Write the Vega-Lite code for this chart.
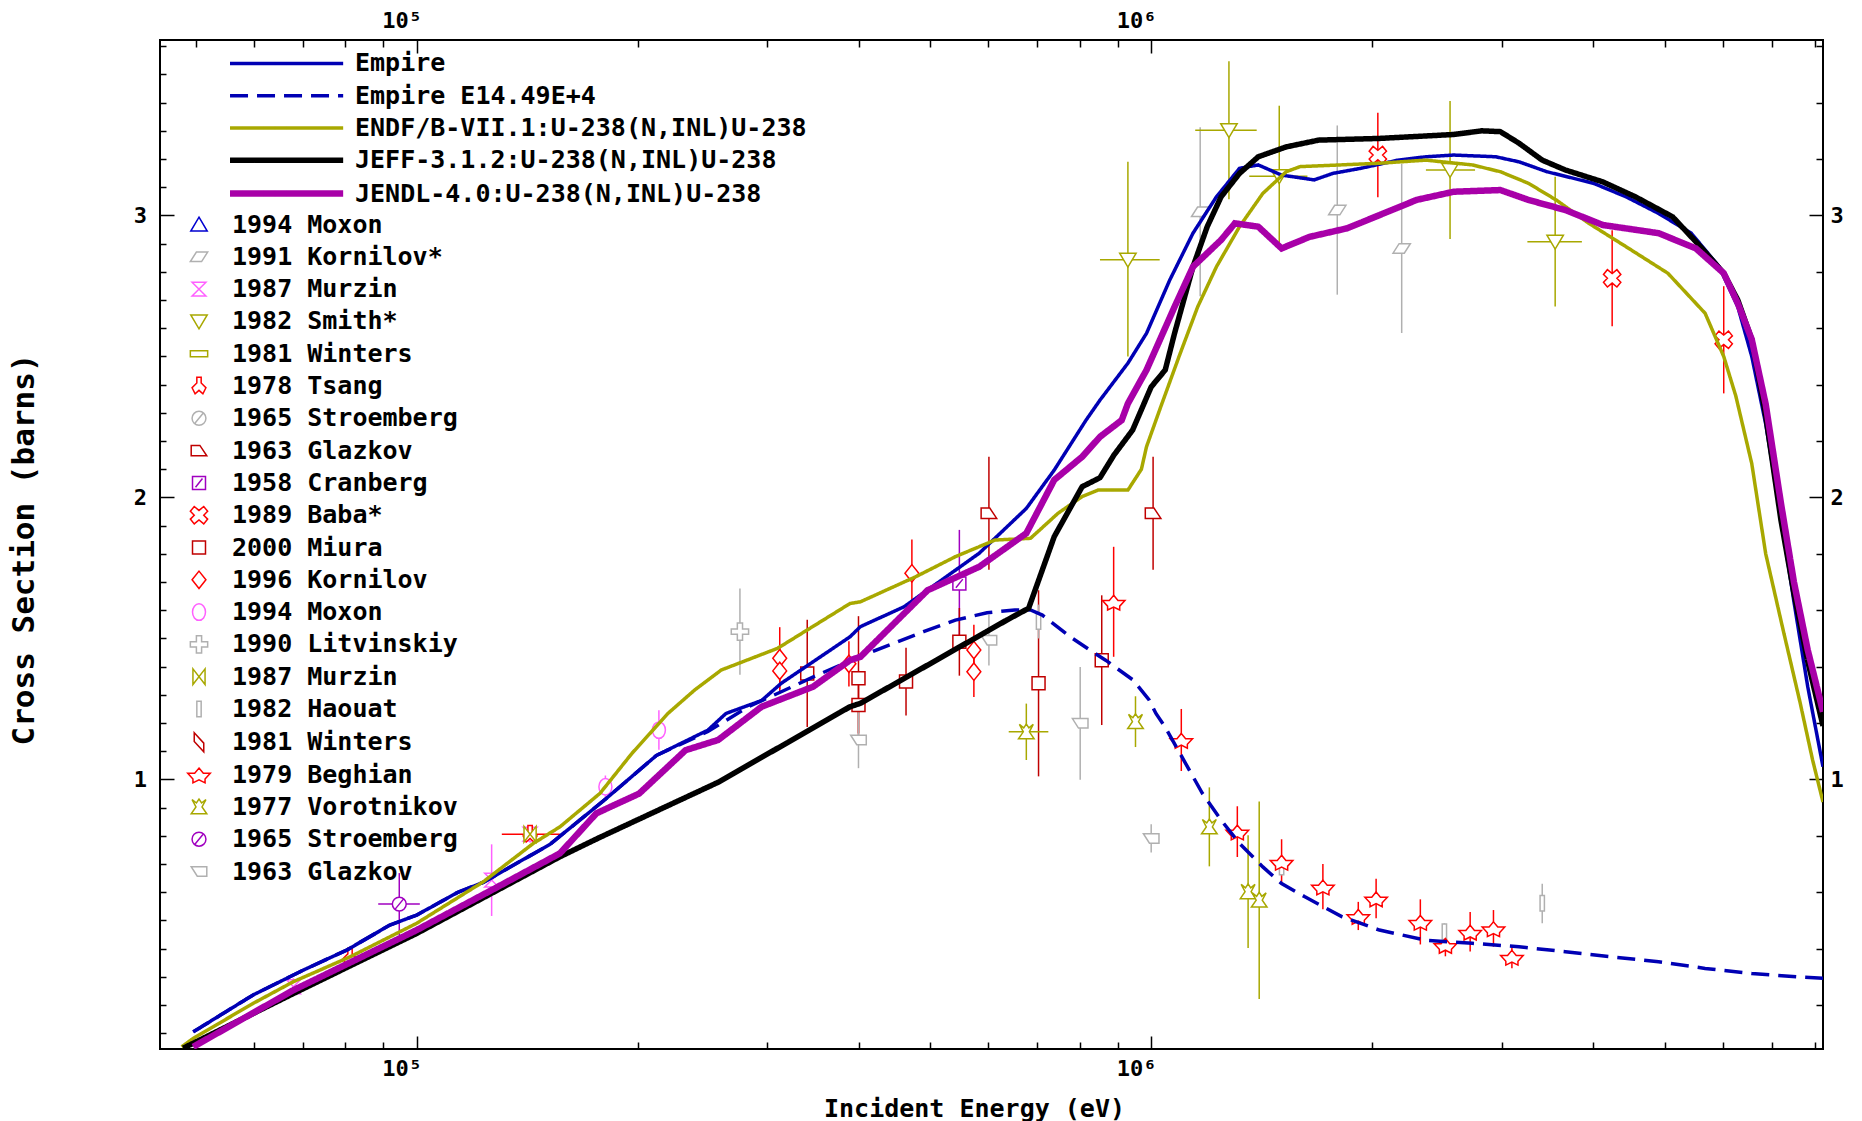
{
"$schema": "https://vega.github.io/schema/vega-lite/v6.json",
"width": 1663, "height": 1009,
"autosize": "none",
"padding": {"left": 160, "top": 40, "right": 39, "bottom": 72},
"background": "white",
"config": {
 "view": {"stroke": "black", "strokeWidth": 2},
 "font": "DejaVu Sans Mono",
 "axis": {"domain": false, "grid": false, "tickColor": "black", "tickWidth": 1.5, "labelFont": "DejaVu Sans Mono", "labelFontWeight": "bold", "labelColor": "black", "titleFont": "DejaVu Sans Mono", "titleFontWeight": "bold", "titleColor": "black", "labelFlush": false, "labelOverlap": false},
 "legend": {"labelFont": "DejaVu Sans Mono", "labelFontWeight": "bold", "labelColor": "black", "labelFontSize": 25, "labelLimit": 0, "padding": 0, "offset": 0}
},
"datasets": {
 "curves": [
{"m":"Empire","E":49640,"v":0.105},{"m":"Empire","E":59900,"v":0.236},{"m":"Empire","E":70100,"v":0.324},{"m":"Empire","E":80300,"v":0.395},{"m":"Empire","E":91990,"v":0.484},{"m":"Empire","E":100000,"v":0.519},{"m":"Empire","E":113800,"v":0.600},{"m":"Empire","E":123200,"v":0.635},{"m":"Empire","E":151900,"v":0.770},{"m":"Empire","E":180700,"v":0.930},{"m":"Empire","E":212000,"v":1.085},{"m":"Empire","E":249200,"v":1.175},{"m":"Empire","E":263700,"v":1.234},{"m":"Empire","E":294900,"v":1.280},{"m":"Empire","E":313600,"v":1.341},{"m":"Empire","E":389100,"v":1.506},{"m":"Empire","E":402000,"v":1.542},{"m":"Empire","E":460600,"v":1.612},{"m":"Empire","E":583200,"v":1.802},{"m":"Empire","E":676100,"v":1.961},{"m":"Empire","E":737900,"v":2.097},{"m":"Empire","E":815200,"v":2.274},{"m":"Empire","E":851700,"v":2.345},{"m":"Empire","E":929600,"v":2.476},{"m":"Empire","E":985500,"v":2.582},{"m":"Empire","E":1060000,"v":2.771},{"m":"Empire","E":1140000,"v":2.937},{"m":"Empire","E":1227000,"v":3.066},{"m":"Empire","E":1319000,"v":3.167},{"m":"Empire","E":1399000,"v":3.179},{"m":"Empire","E":1505000,"v":3.143},{"m":"Empire","E":1667000,"v":3.126},{"m":"Empire","E":1767000,"v":3.149},{"m":"Empire","E":1929000,"v":3.167},{"m":"Empire","E":2168000,"v":3.196},{"m":"Empire","E":2366000,"v":3.208},{"m":"Empire","E":2582000,"v":3.214},{"m":"Empire","E":2944000,"v":3.208},{"m":"Empire","E":3168000,"v":3.190},{"m":"Empire","E":3457000,"v":3.155},{"m":"Empire","E":4000000,"v":3.114},{"m":"Empire","E":4431000,"v":3.066},{"m":"Empire","E":4907000,"v":3.007},{"m":"Empire","E":5435000,"v":2.937},{"m":"Empire","E":5933000,"v":2.818},{"m":"Empire","E":6290000,"v":2.676},{"m":"Empire","E":6571000,"v":2.500},{"m":"Empire","E":6865000,"v":2.260},{"m":"Empire","E":7200000,"v":1.930},{"m":"Empire","E":7500000,"v":1.630},{"m":"Empire","E":7830000,"v":1.330},{"m":"Empire","E":8215000,"v":1.045},
{"m":"Empire E14.49E+4","E":49640,"v":0.105},{"m":"Empire E14.49E+4","E":59900,"v":0.236},{"m":"Empire E14.49E+4","E":70100,"v":0.324},{"m":"Empire E14.49E+4","E":80300,"v":0.395},{"m":"Empire E14.49E+4","E":91990,"v":0.484},{"m":"Empire E14.49E+4","E":100000,"v":0.519},{"m":"Empire E14.49E+4","E":113800,"v":0.600},{"m":"Empire E14.49E+4","E":123200,"v":0.635},{"m":"Empire E14.49E+4","E":151900,"v":0.770},{"m":"Empire E14.49E+4","E":180700,"v":0.930},{"m":"Empire E14.49E+4","E":212000,"v":1.085},{"m":"Empire E14.49E+4","E":249200,"v":1.170},{"m":"Empire E14.49E+4","E":282900,"v":1.258},{"m":"Empire E14.49E+4","E":313600,"v":1.311},{"m":"Empire E14.49E+4","E":355200,"v":1.376},{"m":"Empire E14.49E+4","E":422400,"v":1.459},{"m":"Empire E14.49E+4","E":489900,"v":1.524},{"m":"Empire E14.49E+4","E":541300,"v":1.565},{"m":"Empire E14.49E+4","E":597700,"v":1.591},{"m":"Empire E14.49E+4","E":652000,"v":1.601},{"m":"Empire E14.49E+4","E":685000,"v":1.601},{"m":"Empire E14.49E+4","E":710900,"v":1.583},{"m":"Empire E14.49E+4","E":775500,"v":1.506},{"m":"Empire E14.49E+4","E":825000,"v":1.459},{"m":"Empire E14.49E+4","E":866900,"v":1.423},{"m":"Empire E14.49E+4","E":945400,"v":1.352},{"m":"Empire E14.49E+4","E":993600,"v":1.282},{"m":"Empire E14.49E+4","E":1015000,"v":1.234},{"m":"Empire E14.49E+4","E":1044000,"v":1.187},{"m":"Empire E14.49E+4","E":1094000,"v":1.093},{"m":"Empire E14.49E+4","E":1174000,"v":0.951},{"m":"Empire E14.49E+4","E":1245000,"v":0.856},{"m":"Empire E14.49E+4","E":1319000,"v":0.773},{"m":"Empire E14.49E+4","E":1419000,"v":0.690},{"m":"Empire E14.49E+4","E":1505000,"v":0.631},{"m":"Empire E14.49E+4","E":1619000,"v":0.584},{"m":"Empire E14.49E+4","E":1820000,"v":0.513},{"m":"Empire E14.49E+4","E":2045000,"v":0.466},{"m":"Empire E14.49E+4","E":2366000,"v":0.430},{"m":"Empire E14.49E+4","E":2737000,"v":0.419},{"m":"Empire E14.49E+4","E":3168000,"v":0.407},{"m":"Empire E14.49E+4","E":3664000,"v":0.389},{"m":"Empire E14.49E+4","E":4242000,"v":0.371},{"m":"Empire E14.49E+4","E":4907000,"v":0.354},{"m":"Empire E14.49E+4","E":5677000,"v":0.330},{"m":"Empire E14.49E+4","E":6571000,"v":0.312},{"m":"Empire E14.49E+4","E":7602000,"v":0.300},{"m":"Empire E14.49E+4","E":8215000,"v":0.295},
{"m":"ENDF/B-VII.1:U-238(N,INL)U-238","E":47870,"v":0.052},{"m":"ENDF/B-VII.1:U-238(N,INL)U-238","E":49640,"v":0.082},{"m":"ENDF/B-VII.1:U-238(N,INL)U-238","E":59900,"v":0.206},{"m":"ENDF/B-VII.1:U-238(N,INL)U-238","E":67960,"v":0.283},{"m":"ENDF/B-VII.1:U-238(N,INL)U-238","E":81150,"v":0.371},{"m":"ENDF/B-VII.1:U-238(N,INL)U-238","E":100000,"v":0.490},{"m":"ENDF/B-VII.1:U-238(N,INL)U-238","E":123200,"v":0.637},{"m":"ENDF/B-VII.1:U-238(N,INL)U-238","E":144100,"v":0.773},{"m":"ENDF/B-VII.1:U-238(N,INL)U-238","E":156700,"v":0.832},{"m":"ENDF/B-VII.1:U-238(N,INL)U-238","E":177700,"v":0.951},{"m":"ENDF/B-VII.1:U-238(N,INL)U-238","E":196300,"v":1.092},{"m":"ENDF/B-VII.1:U-238(N,INL)U-238","E":219800,"v":1.234},{"m":"ENDF/B-VII.1:U-238(N,INL)U-238","E":239000,"v":1.317},{"m":"ENDF/B-VII.1:U-238(N,INL)U-238","E":259800,"v":1.388},{"m":"ENDF/B-VII.1:U-238(N,INL)U-238","E":310000,"v":1.465},{"m":"ENDF/B-VII.1:U-238(N,INL)U-238","E":389100,"v":1.624},{"m":"ENDF/B-VII.1:U-238(N,INL)U-238","E":402000,"v":1.630},{"m":"ENDF/B-VII.1:U-238(N,INL)U-238","E":478200,"v":1.719},{"m":"ENDF/B-VII.1:U-238(N,INL)U-238","E":541300,"v":1.790},{"m":"ENDF/B-VII.1:U-238(N,INL)U-238","E":612900,"v":1.849},{"m":"ENDF/B-VII.1:U-238(N,INL)U-238","E":685000,"v":1.855},{"m":"ENDF/B-VII.1:U-238(N,INL)U-238","E":746900,"v":1.944},{"m":"ENDF/B-VII.1:U-238(N,INL)U-238","E":805300,"v":2.003},{"m":"ENDF/B-VII.1:U-238(N,INL)U-238","E":846500,"v":2.026},{"m":"ENDF/B-VII.1:U-238(N,INL)U-238","E":929600,"v":2.026},{"m":"ENDF/B-VII.1:U-238(N,INL)U-238","E":969800,"v":2.100},{"m":"ENDF/B-VII.1:U-238(N,INL)U-238","E":985500,"v":2.180},{"m":"ENDF/B-VII.1:U-238(N,INL)U-238","E":1030000,"v":2.320},{"m":"ENDF/B-VII.1:U-238(N,INL)U-238","E":1091000,"v":2.499},{"m":"ENDF/B-VII.1:U-238(N,INL)U-238","E":1157000,"v":2.676},{"m":"ENDF/B-VII.1:U-238(N,INL)U-238","E":1227000,"v":2.818},{"m":"ENDF/B-VII.1:U-238(N,INL)U-238","E":1319000,"v":2.960},{"m":"ENDF/B-VII.1:U-238(N,INL)U-238","E":1419000,"v":3.078},{"m":"ENDF/B-VII.1:U-238(N,INL)U-238","E":1527000,"v":3.155},{"m":"ENDF/B-VII.1:U-238(N,INL)U-238","E":1595000,"v":3.173},{"m":"ENDF/B-VII.1:U-238(N,INL)U-238","E":2045000,"v":3.185},{"m":"ENDF/B-VII.1:U-238(N,INL)U-238","E":2366000,"v":3.196},{"m":"ENDF/B-VII.1:U-238(N,INL)U-238","E":2737000,"v":3.179},{"m":"ENDF/B-VII.1:U-238(N,INL)U-238","E":2988000,"v":3.155},{"m":"ENDF/B-VII.1:U-238(N,INL)U-238","E":3262000,"v":3.114},{"m":"ENDF/B-VII.1:U-238(N,INL)U-238","E":3558000,"v":3.055},{"m":"ENDF/B-VII.1:U-238(N,INL)U-238","E":3943000,"v":2.972},{"m":"ENDF/B-VII.1:U-238(N,INL)U-238","E":4431000,"v":2.889},{"m":"ENDF/B-VII.1:U-238(N,INL)U-238","E":5051000,"v":2.795},{"m":"ENDF/B-VII.1:U-238(N,INL)U-238","E":5677000,"v":2.653},{"m":"ENDF/B-VII.1:U-238(N,INL)U-238","E":6018000,"v":2.500},{"m":"ENDF/B-VII.1:U-238(N,INL)U-238","E":6250000,"v":2.360},{"m":"ENDF/B-VII.1:U-238(N,INL)U-238","E":6571000,"v":2.120},{"m":"ENDF/B-VII.1:U-238(N,INL)U-238","E":6865000,"v":1.800},{"m":"ENDF/B-VII.1:U-238(N,INL)U-238","E":7250000,"v":1.530},{"m":"ENDF/B-VII.1:U-238(N,INL)U-238","E":7650000,"v":1.270},{"m":"ENDF/B-VII.1:U-238(N,INL)U-238","E":7950000,"v":1.070},{"m":"ENDF/B-VII.1:U-238(N,INL)U-238","E":8215000,"v":0.920},
{"m":"JEFF-3.1.2:U-238(N,INL)U-238","E":48100,"v":0.047},{"m":"JEFF-3.1.2:U-238(N,INL)U-238","E":67960,"v":0.241},{"m":"JEFF-3.1.2:U-238(N,INL)U-238","E":100000,"v":0.454},{"m":"JEFF-3.1.2:U-238(N,INL)U-238","E":156700,"v":0.726},{"m":"JEFF-3.1.2:U-238(N,INL)U-238","E":177700,"v":0.795},{"m":"JEFF-3.1.2:U-238(N,INL)U-238","E":257300,"v":0.990},{"m":"JEFF-3.1.2:U-238(N,INL)U-238","E":389100,"v":1.258},{"m":"JEFF-3.1.2:U-238(N,INL)U-238","E":402000,"v":1.270},{"m":"JEFF-3.1.2:U-238(N,INL)U-238","E":635800,"v":1.565},{"m":"JEFF-3.1.2:U-238(N,INL)U-238","E":681000,"v":1.607},{"m":"JEFF-3.1.2:U-238(N,INL)U-238","E":737900,"v":1.861},{"m":"JEFF-3.1.2:U-238(N,INL)U-238","E":805300,"v":2.038},{"m":"JEFF-3.1.2:U-238(N,INL)U-238","E":851700,"v":2.070},{"m":"JEFF-3.1.2:U-238(N,INL)U-238","E":889700,"v":2.150},{"m":"JEFF-3.1.2:U-238(N,INL)U-238","E":943500,"v":2.239},{"m":"JEFF-3.1.2:U-238(N,INL)U-238","E":1000000,"v":2.392},{"m":"JEFF-3.1.2:U-238(N,INL)U-238","E":1045000,"v":2.452},{"m":"JEFF-3.1.2:U-238(N,INL)U-238","E":1076000,"v":2.582},{"m":"JEFF-3.1.2:U-238(N,INL)U-238","E":1140000,"v":2.818},{"m":"JEFF-3.1.2:U-238(N,INL)U-238","E":1192000,"v":2.960},{"m":"JEFF-3.1.2:U-238(N,INL)U-238","E":1245000,"v":3.066},{"m":"JEFF-3.1.2:U-238(N,INL)U-238","E":1319000,"v":3.149},{"m":"JEFF-3.1.2:U-238(N,INL)U-238","E":1399000,"v":3.208},{"m":"JEFF-3.1.2:U-238(N,INL)U-238","E":1527000,"v":3.243},{"m":"JEFF-3.1.2:U-238(N,INL)U-238","E":1690000,"v":3.267},{"m":"JEFF-3.1.2:U-238(N,INL)U-238","E":2045000,"v":3.273},{"m":"JEFF-3.1.2:U-238(N,INL)U-238","E":2582000,"v":3.287},{"m":"JEFF-3.1.2:U-238(N,INL)U-238","E":2819000,"v":3.300},{"m":"JEFF-3.1.2:U-238(N,INL)U-238","E":2988000,"v":3.297},{"m":"JEFF-3.1.2:U-238(N,INL)U-238","E":3168000,"v":3.256},{"m":"JEFF-3.1.2:U-238(N,INL)U-238","E":3407000,"v":3.196},{"m":"JEFF-3.1.2:U-238(N,INL)U-238","E":3664000,"v":3.161},{"m":"JEFF-3.1.2:U-238(N,INL)U-238","E":4119000,"v":3.119},{"m":"JEFF-3.1.2:U-238(N,INL)U-238","E":4562000,"v":3.066},{"m":"JEFF-3.1.2:U-238(N,INL)U-238","E":5127000,"v":2.995},{"m":"JEFF-3.1.2:U-238(N,INL)U-238","E":5596000,"v":2.889},{"m":"JEFF-3.1.2:U-238(N,INL)U-238","E":6018000,"v":2.795},{"m":"JEFF-3.1.2:U-238(N,INL)U-238","E":6290000,"v":2.700},{"m":"JEFF-3.1.2:U-238(N,INL)U-238","E":6571000,"v":2.560},{"m":"JEFF-3.1.2:U-238(N,INL)U-238","E":6865000,"v":2.290},{"m":"JEFF-3.1.2:U-238(N,INL)U-238","E":7200000,"v":1.920},{"m":"JEFF-3.1.2:U-238(N,INL)U-238","E":7500000,"v":1.660},{"m":"JEFF-3.1.2:U-238(N,INL)U-238","E":7830000,"v":1.420},{"m":"JEFF-3.1.2:U-238(N,INL)U-238","E":8215000,"v":1.190},
{"m":"JENDL-4.0:U-238(N,INL)U-238","E":49640,"v":0.052},{"m":"JENDL-4.0:U-238(N,INL)U-238","E":67960,"v":0.253},{"m":"JENDL-4.0:U-238(N,INL)U-238","E":100000,"v":0.466},{"m":"JENDL-4.0:U-238(N,INL)U-238","E":129100,"v":0.620},{"m":"JENDL-4.0:U-238(N,INL)U-238","E":156700,"v":0.738},{"m":"JENDL-4.0:U-238(N,INL)U-238","E":175700,"v":0.880},{"m":"JENDL-4.0:U-238(N,INL)U-238","E":200900,"v":0.950},{"m":"JENDL-4.0:U-238(N,INL)U-238","E":232400,"v":1.104},{"m":"JENDL-4.0:U-238(N,INL)U-238","E":257300,"v":1.140},{"m":"JENDL-4.0:U-238(N,INL)U-238","E":294900,"v":1.258},{"m":"JENDL-4.0:U-238(N,INL)U-238","E":346600,"v":1.329},{"m":"JENDL-4.0:U-238(N,INL)U-238","E":389100,"v":1.423},{"m":"JENDL-4.0:U-238(N,INL)U-238","E":402000,"v":1.435},{"m":"JENDL-4.0:U-238(N,INL)U-238","E":496200,"v":1.671},{"m":"JENDL-4.0:U-238(N,INL)U-238","E":583200,"v":1.754},{"m":"JENDL-4.0:U-238(N,INL)U-238","E":676100,"v":1.873},{"m":"JENDL-4.0:U-238(N,INL)U-238","E":737900,"v":2.062},{"m":"JENDL-4.0:U-238(N,INL)U-238","E":805300,"v":2.144},{"m":"JENDL-4.0:U-238(N,INL)U-238","E":851700,"v":2.215},{"m":"JENDL-4.0:U-238(N,INL)U-238","E":911700,"v":2.274},{"m":"JENDL-4.0:U-238(N,INL)U-238","E":929600,"v":2.333},{"m":"JENDL-4.0:U-238(N,INL)U-238","E":985500,"v":2.452},{"m":"JENDL-4.0:U-238(N,INL)U-238","E":1076000,"v":2.676},{"m":"JENDL-4.0:U-238(N,INL)U-238","E":1140000,"v":2.818},{"m":"JENDL-4.0:U-238(N,INL)U-238","E":1245000,"v":2.913},{"m":"JENDL-4.0:U-238(N,INL)U-238","E":1300000,"v":2.972},{"m":"JENDL-4.0:U-238(N,INL)U-238","E":1399000,"v":2.960},{"m":"JENDL-4.0:U-238(N,INL)U-238","E":1505000,"v":2.883},{"m":"JENDL-4.0:U-238(N,INL)U-238","E":1643000,"v":2.924},{"m":"JENDL-4.0:U-238(N,INL)U-238","E":1846000,"v":2.954},{"m":"JENDL-4.0:U-238(N,INL)U-238","E":2045000,"v":3.001},{"m":"JENDL-4.0:U-238(N,INL)U-238","E":2298000,"v":3.055},{"m":"JENDL-4.0:U-238(N,INL)U-238","E":2582000,"v":3.084},{"m":"JENDL-4.0:U-238(N,INL)U-238","E":2988000,"v":3.090},{"m":"JENDL-4.0:U-238(N,INL)U-238","E":3262000,"v":3.055},{"m":"JENDL-4.0:U-238(N,INL)U-238","E":3664000,"v":3.019},{"m":"JENDL-4.0:U-238(N,INL)U-238","E":4119000,"v":2.966},{"m":"JENDL-4.0:U-238(N,INL)U-238","E":4907000,"v":2.937},{"m":"JENDL-4.0:U-238(N,INL)U-238","E":5515000,"v":2.883},{"m":"JENDL-4.0:U-238(N,INL)U-238","E":6018000,"v":2.795},{"m":"JENDL-4.0:U-238(N,INL)U-238","E":6290000,"v":2.688},{"m":"JENDL-4.0:U-238(N,INL)U-238","E":6571000,"v":2.560},{"m":"JENDL-4.0:U-238(N,INL)U-238","E":6865000,"v":2.330},{"m":"JENDL-4.0:U-238(N,INL)U-238","E":7200000,"v":1.980},{"m":"JENDL-4.0:U-238(N,INL)U-238","E":7500000,"v":1.700},{"m":"JENDL-4.0:U-238(N,INL)U-238","E":7830000,"v":1.460},{"m":"JENDL-4.0:U-238(N,INL)U-238","E":8215000,"v":1.240}
 ],
 "exp": [
{"ds":"1991 Kornilov*","E":1166000,"v":3.013,"lo":2.713,"hi":3.313},
{"ds":"1991 Kornilov*","E":1792000,"v":3.019,"lo":2.719,"hi":3.319},
{"ds":"1991 Kornilov*","E":2193000,"v":2.883,"lo":2.583,"hi":3.183},
{"ds":"1987 Murzin","E":67960,"v":0.265,"lo":0.235,"hi":0.295},
{"ds":"1987 Murzin","E":126500,"v":0.643,"lo":0.516,"hi":0.770},
{"ds":"1987 Murzin","E":142700,"v":0.806,"lo":0.776,"hi":0.836},
{"ds":"1982 Smith*","E":929600,"v":2.843,"lo":2.50,"hi":3.19,"Elo":851700,"Ehi":1027000},
{"ds":"1982 Smith*","E":1276000,"v":3.302,"lo":3.057,"hi":3.547,"Elo":1148000,"Ehi":1392000},
{"ds":"1982 Smith*","E":1494000,"v":3.139,"lo":2.889,"hi":3.389,"Elo":1360000,"Ehi":1632000},
{"ds":"1982 Smith*","E":2552000,"v":3.161,"lo":2.916,"hi":3.406,"Elo":2366000,"Ehi":2760000},
{"ds":"1982 Smith*","E":3548000,"v":2.907,"lo":2.677,"hi":3.137,"Elo":3252000,"Ehi":3858000},
{"ds":"1978 Tsang","E":81150,"v":0.371,"lo":0.34,"hi":0.40},
{"ds":"1978 Tsang","E":142700,"v":0.806,"lo":0.79,"hi":0.82,"Elo":130600,"Ehi":156700},
{"ds":"1963 Glazkov","E":601300,"v":1.944,"lo":1.744,"hi":2.144},
{"ds":"1963 Glazkov","E":1006000,"v":1.944,"lo":1.744,"hi":2.144},
{"ds":"1958 Cranberg","E":548100,"v":1.695,"lo":1.505,"hi":1.885},
{"ds":"1989 Baba*","E":2035000,"v":3.214,"lo":3.064,"hi":3.364},
{"ds":"1989 Baba*","E":4242000,"v":2.777,"lo":2.607,"hi":2.947},
{"ds":"1989 Baba*","E":6018000,"v":2.559,"lo":2.369,"hi":2.749},
{"ds":"2000 Miura","E":340200,"v":1.376,"lo":1.186,"hi":1.566},
{"ds":"2000 Miura","E":399500,"v":1.359,"lo":1.139,"hi":1.579},
{"ds":"2000 Miura","E":399500,"v":1.264,"lo":1.164,"hi":1.364},
{"ds":"2000 Miura","E":463700,"v":1.347,"lo":1.227,"hi":1.467},
{"ds":"2000 Miura","E":548100,"v":1.488,"lo":1.368,"hi":1.608},
{"ds":"2000 Miura","E":702500,"v":1.341,"lo":1.011,"hi":1.671},
{"ds":"2000 Miura","E":856400,"v":1.423,"lo":1.193,"hi":1.653},
{"ds":"1996 Kornilov","E":312100,"v":1.43,"lo":1.32,"hi":1.54},
{"ds":"1996 Kornilov","E":312100,"v":1.385,"lo":1.305,"hi":1.465},
{"ds":"1996 Kornilov","E":387700,"v":1.41,"lo":1.33,"hi":1.49},
{"ds":"1996 Kornilov","E":472300,"v":1.731,"lo":1.611,"hi":1.851},
{"ds":"1996 Kornilov","E":573600,"v":1.459,"lo":1.369,"hi":1.549},
{"ds":"1996 Kornilov","E":573600,"v":1.382,"lo":1.292,"hi":1.472},
{"ds":"1994 Moxon ","E":180700,"v":0.974,"lo":0.934,"hi":1.014},
{"ds":"1994 Moxon ","E":213700,"v":1.175,"lo":1.105,"hi":1.245},
{"ds":"1990 Litvinskiy","E":275500,"v":1.524,"lo":1.371,"hi":1.677},
{"ds":"1987 Murzin ","E":142700,"v":0.806,"lo":0.80,"hi":0.81},
{"ds":"1982 Haouat","E":702500,"v":1.56,"lo":1.50,"hi":1.62},
{"ds":"1982 Haouat","E":1505000,"v":0.69,"lo":0.66,"hi":0.72},
{"ds":"1982 Haouat","E":2507000,"v":0.46,"lo":0.43,"hi":0.49},
{"ds":"1982 Haouat","E":3407000,"v":0.561,"lo":0.49,"hi":0.63},
{"ds":"1979 Beghian","E":889000,"v":1.630,"lo":1.435,"hi":1.825},
{"ds":"1979 Beghian","E":1099000,"v":1.140,"lo":1.03,"hi":1.25},
{"ds":"1979 Beghian","E":1310000,"v":0.815,"lo":0.725,"hi":0.905},
{"ds":"1979 Beghian","E":1505000,"v":0.708,"lo":0.628,"hi":0.788},
{"ds":"1979 Beghian","E":1713000,"v":0.620,"lo":0.54,"hi":0.70},
{"ds":"1979 Beghian","E":1914000,"v":0.516,"lo":0.466,"hi":0.566},
{"ds":"1979 Beghian","E":2024000,"v":0.578,"lo":0.508,"hi":0.648},
{"ds":"1979 Beghian","E":2325000,"v":0.495,"lo":0.415,"hi":0.575},
{"ds":"1979 Beghian","E":2515000,"v":0.413,"lo":0.373,"hi":0.453},
{"ds":"1979 Beghian","E":2718000,"v":0.460,"lo":0.39,"hi":0.53},
{"ds":"1979 Beghian","E":2924000,"v":0.472,"lo":0.407,"hi":0.537},
{"ds":"1979 Beghian","E":3098000,"v":0.371,"lo":0.331,"hi":0.411},
{"ds":"1977 Vorotnikov","E":676100,"v":1.169,"lo":1.069,"hi":1.269,"Elo":639800,"Ehi":724400},
{"ds":"1977 Vorotnikov","E":952000,"v":1.205,"lo":1.115,"hi":1.295},
{"ds":"1977 Vorotnikov","E":1200000,"v":0.832,"lo":0.692,"hi":0.972},
{"ds":"1977 Vorotnikov","E":1355000,"v":0.602,"lo":0.402,"hi":0.802},
{"ds":"1977 Vorotnikov","E":1403000,"v":0.572,"lo":0.222,"hi":0.922},
{"ds":"1965 Stroemberg ","E":94700,"v":0.558,"lo":0.448,"hi":0.668,"Elo":88650,"Ehi":101000},
{"ds":"1963 Glazkov ","E":399500,"v":1.140,"lo":1.04,"hi":1.24},
{"ds":"1963 Glazkov ","E":601300,"v":1.494,"lo":1.404,"hi":1.584},
{"ds":"1963 Glazkov ","E":800500,"v":1.199,"lo":0.999,"hi":1.399},
{"ds":"1963 Glazkov ","E":1000000,"v":0.791,"lo":0.741,"hi":0.841}
 ]
},
"layer": [
 {
  "data": {"name": "exp"},
  "layer": [
   {
    "mark": {"type": "rule", "strokeWidth": 1.5, "clip": true},
    "encoding": {
     "x": {"field": "E", "type": "quantitative", "scale": {"type": "log", "domain": [44730, 8215000], "nice": false},
       "axis": {"orient": "bottom", "values": [50000,60000,70000,80000,90000,200000,300000,400000,500000,600000,700000,800000,900000,2000000,3000000,4000000,5000000,6000000,7000000,8000000], "labels": false, "offset": -7, "tickSize": 7, "title": null}},
     "y": {"field": "lo", "type": "quantitative", "scale": {"domain": [0.0443, 3.622], "nice": false, "zero": false},
       "axis": {"orient": "left", "values": [0.1,0.2,0.3,0.4,0.5,0.6,0.7,0.8,0.9,1.1,1.2,1.3,1.4,1.5,1.6,1.7,1.8,1.9,2.1,2.2,2.3,2.4,2.5,2.6,2.7,2.8,2.9,3.1,3.2,3.3,3.4,3.5,3.6], "labels": false, "offset": -6, "tickSize": 6, "title": null}},
     "y2": {"field": "hi"},
     "color": {"field": "ds", "type": "nominal", "legend": null}
    }
   },
   {
    "transform": [{"filter": "isValid(datum.Elo)"}],
    "mark": {"type": "rule", "strokeWidth": 1.5, "clip": true},
    "encoding": {
     "x": {"field": "Elo", "type": "quantitative", "scale": {"type": "log", "domain": [44730, 8215000], "nice": false},
       "axis": {"orient": "top", "values": [50000,60000,70000,80000,90000,200000,300000,400000,500000,600000,700000,800000,900000,2000000,3000000,4000000,5000000,6000000,7000000,8000000], "labels": false, "offset": -7, "tickSize": 7, "title": null}},
     "x2": {"field": "Ehi"},
     "y": {"field": "v", "type": "quantitative", "scale": {"domain": [0.0443, 3.622], "nice": false, "zero": false},
       "axis": {"orient": "right", "values": [0.2,0.4,0.6,0.8,1.2,1.4,1.6,1.8,2.2,2.4,2.6,2.8,3.2,3.4,3.6], "labels": false, "offset": -7, "tickSize": 7, "title": null}},
     "color": {"field": "ds", "type": "nominal", "legend": null}
    }
   },
   {
    "mark": {"type": "point", "filled": false, "fill": "white", "fillOpacity": 1, "strokeWidth": 1.5, "size": 300, "opacity": 1, "clip": true},
    "encoding": {
     "x": {"field": "E", "type": "quantitative", "scale": {"type": "log", "domain": [44730, 8215000], "nice": false},
       "axis": {"orient": "top", "values": [100000, 1000000], "labelExpr": "datum.value < 300000 ? '10⁵' : '10⁶'", "offset": -13, "tickSize": 13, "labelPadding": 8, "labelFontSize": 22, "labelOffset": -15, "title": null}},
     "y": {"field": "v", "type": "quantitative", "scale": {"domain": [0.0443, 3.622], "nice": false, "zero": false},
       "axis": {"orient": "right", "values": [1, 2, 3], "format": "d", "offset": -14, "tickSize": 14, "labelPadding": 7, "labelFontSize": 22, "title": null}},
     "color": {"field": "ds", "type": "nominal",
       "scale": {"domain": ["1994 Moxon","1991 Kornilov*","1987 Murzin","1982 Smith*","1981 Winters","1978 Tsang","1965 Stroemberg","1963 Glazkov","1958 Cranberg","1989 Baba*","2000 Miura","1996 Kornilov","1994 Moxon ","1990 Litvinskiy","1987 Murzin ","1982 Haouat","1981 Winters ","1979 Beghian","1977 Vorotnikov","1965 Stroemberg ","1963 Glazkov "],
         "range": ["#0000d0","#b0b0b0","#ff60ff","#a8a800","#a8a800","#ff0000","#b0b0b0","#c00000","#a000c0","#ff0000","#c00000","#ff0000","#ff60ff","#b0b0b0","#a8a800","#b0b0b0","#c00000","#ff0000","#a8a800","#a000c0","#b0b0b0"]},
       "legend": {"orient": "none", "legendX": 26.5, "legendY": 172, "title": null, "symbolSize": 300, "symbolStrokeWidth": 1.5, "symbolFillColor": "white", "labelFontSize": 25, "labelOffset": 20.5, "rowPadding": 6.3}},
     "shape": {"field": "ds", "type": "nominal",
       "scale": {"domain": ["1994 Moxon","1991 Kornilov*","1987 Murzin","1982 Smith*","1981 Winters","1978 Tsang","1965 Stroemberg","1963 Glazkov","1958 Cranberg","1989 Baba*","2000 Miura","1996 Kornilov","1994 Moxon ","1990 Litvinskiy","1987 Murzin ","1982 Haouat","1981 Winters ","1979 Beghian","1977 Vorotnikov","1965 Stroemberg ","1963 Glazkov "],
         "range": ["M0,-0.85L0.95,0.75L-0.95,0.75Z","M-0.3,-0.55L1,-0.55L0.3,0.55L-1,0.55Z","M-0.8,-0.8H0.8L-0.8,0.8H0.8Z","M-0.95,-0.75H0.95L0,0.85Z","M-1,-0.35H1V0.35H-1Z","M-0.25,-1H0.25V-0.35L0.8,0.2L0.45,0.9L0,0.5L-0.45,0.9L-0.8,0.2L-0.25,-0.35Z","M0.8,0A0.8,0.8,0,1,1,-0.8,0A0.8,0.8,0,1,1,0.8,0ZM0.45,-0.55L-0.45,0.55","M-0.9,-0.6H0.1L0.9,0.6H-0.9Z","M-0.75,-0.75H0.75V0.75H-0.75ZM0.4,-0.5L-0.4,0.5","M-0.55,-1L0,-0.55L0.55,-1L1,-0.45L0.55,0L1,0.45L0.55,1L0,0.55L-0.55,1L-1,0.45L-0.55,0L-1,-0.45Z","M-0.75,-0.75H0.75V0.75H-0.75Z","M0,-1L0.8,0L0,1L-0.8,0Z","M0.75,0A0.75,0.95,0,1,1,-0.75,0A0.75,0.95,0,1,1,0.75,0Z","M-0.3,-1H0.3V-0.3H1V0.3H0.3V1H-0.3V0.3H-1V-0.3H-0.3Z","M-0.7,-0.9V0.9L0.7,-0.9V0.9Z","M-0.25,-0.9H0.25V0.9H-0.25Z","M-0.55,-1.1L0.55,0.1V1.1L-0.55,-0.1Z","M0,-0.75L0.5,-0.15H1.3L0.7,0.5V0.95L0,0.6L-0.7,0.95V0.5L-1.3,-0.15H-0.5Z","M-0.8,-0.85L-0.3,-0.45L0,-0.9L0.3,-0.45L0.8,-0.85L0.35,0L0.9,0.8H-0.9L-0.35,0Z","M0.8,0A0.8,0.8,0,1,1,-0.8,0A0.8,0.8,0,1,1,0.8,0ZM0.45,-0.55L-0.45,0.55","M-0.9,-0.55H0.9V0.55H-0.2Z"]},
       "legend": {"orient": "none", "legendX": 26.5, "legendY": 172, "title": null, "symbolSize": 300, "symbolStrokeWidth": 1.5, "symbolFillColor": "white", "labelFontSize": 25, "labelOffset": 20.5, "rowPadding": 6.3}}
    }
   }
  ],
  "resolve": {"axis": {"x": "independent", "y": "independent"}, "legend": {"color": "independent", "shape": "independent"}}
 },
 {
  "data": {"name": "curves"},
  "mark": {"type": "line", "clip": true, "interpolate": "linear"},
  "encoding": {
   "x": {"field": "E", "type": "quantitative", "scale": {"type": "log", "domain": [44730, 8215000], "nice": false},
     "axis": {"orient": "bottom", "values": [100000, 1000000], "labelExpr": "datum.value < 300000 ? '10⁵' : '10⁶'", "offset": -13, "tickSize": 13, "labelPadding": 9, "labelFontSize": 22, "labelOffset": -15, "labelBaseline": "top",
       "title": "Incident Energy (eV)", "titleFontSize": 25, "titleX": 814, "titleY": 72, "titleAlign": "center", "titleBaseline": "middle", "titleAngle": 0}},
   "y": {"field": "v", "type": "quantitative", "scale": {"domain": [0.0443, 3.622], "nice": false, "zero": false},
     "axis": {"orient": "left", "values": [1, 2, 3], "format": "d", "offset": -14, "tickSize": 14, "labelPadding": 13.5, "labelFontSize": 22,
       "title": "Cross Section (barns)", "titleFontSize": 31, "titleX": -150, "titleY": 509, "titleAngle": 270, "titleAlign": "center", "titleBaseline": "middle"}},
   "stroke": {"field": "m", "type": "nominal",
     "scale": {"domain": ["Empire","Empire E14.49E+4","ENDF/B-VII.1:U-238(N,INL)U-238","JEFF-3.1.2:U-238(N,INL)U-238","JENDL-4.0:U-238(N,INL)U-238"], "range": ["#0000b4","#0000b4","#a8a800","#000000","#a800a8"]},
     "legend": {"orient": "none", "legendX": 64.6, "legendY": 10.9, "title": null, "symbolType": "M-1,0H15", "symbolSize": 200, "labelFontSize": 25, "labelOffset": 105.4, "rowPadding": 6.3}},
   "strokeDash": {"field": "m", "type": "nominal",
     "scale": {"domain": ["Empire","Empire E14.49E+4","ENDF/B-VII.1:U-238(N,INL)U-238","JEFF-3.1.2:U-238(N,INL)U-238","JENDL-4.0:U-238(N,INL)U-238"], "range": [[1,0],[18,9],[1,0],[1,0],[1,0]]},
     "legend": {"orient": "none", "legendX": 64.6, "legendY": 10.9, "title": null, "symbolType": "M-1,0H15", "symbolSize": 200, "labelFontSize": 25, "labelOffset": 105.4, "rowPadding": 6.3}},
   "strokeWidth": {"field": "m", "type": "nominal",
     "scale": {"type": "ordinal", "domain": ["Empire","Empire E14.49E+4","ENDF/B-VII.1:U-238(N,INL)U-238","JEFF-3.1.2:U-238(N,INL)U-238","JENDL-4.0:U-238(N,INL)U-238"], "range": [3.5,3.5,3.5,5.5,6.5]},
     "legend": {"orient": "none", "legendX": 64.6, "legendY": 10.9, "title": null, "symbolType": "M-1,0H15", "symbolSize": 200, "labelFontSize": 25, "labelOffset": 105.4, "rowPadding": 6.3}}
  }
 }
],
"resolve": {"axis": {"x": "independent", "y": "independent"}}
}
